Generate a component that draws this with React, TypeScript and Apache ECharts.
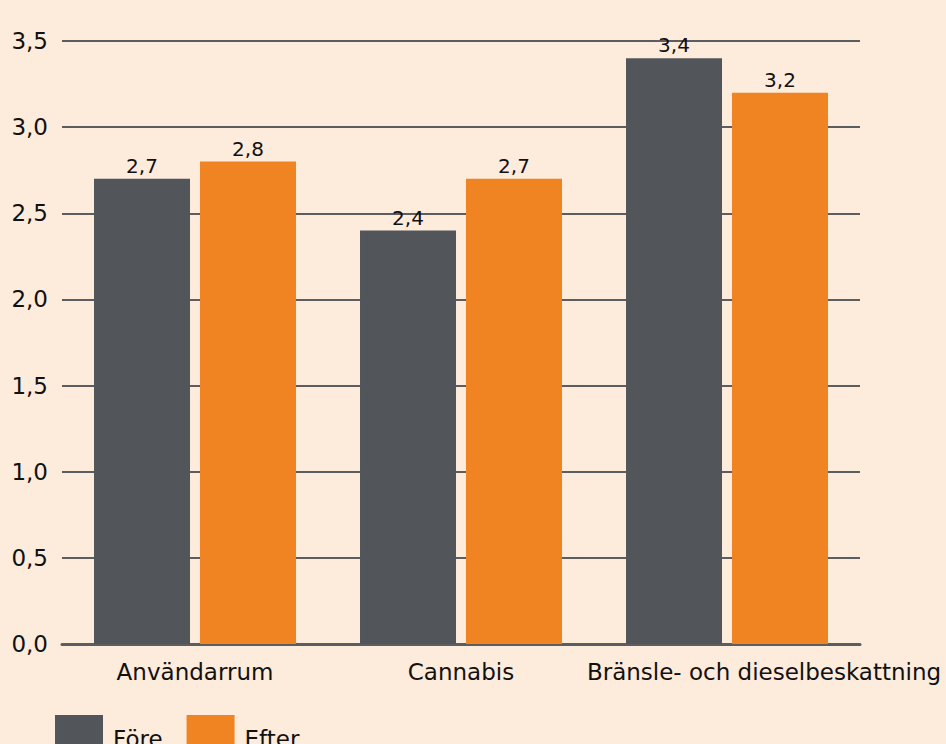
import React, { useEffect, useRef } from "react";
import * as echarts from "echarts";

const categories = ["Användarrum", "Cannabis", "Bränsle- och dieselbeskattning"];
const fore = [2.7, 2.4, 3.4];
const efter = [2.8, 2.7, 3.2];
const seriesNames = ["Före", "Efter"];

const BG = "#FDEBDC";
const GREY = "#52565B";
const ORANGE = "#F08322";
const LINE = "#5C5D60";
const FONT = "'DejaVu Sans', sans-serif";

const fmt = (v: number) => v.toFixed(1).replace(".", ",");

export default function App() {
  const ref = useRef<HTMLDivElement>(null);
  useEffect(() => {
    if (!ref.current) return;
    const chart = echarts.init(ref.current, null, { renderer: "svg" });
    chart.setOption({
      animation: false,
      backgroundColor: BG,
      grid: { left: 62, right: 86, top: 41, bottom: 100, containLabel: false },
      legend: {
        left: 55,
        top: 715,
        padding: 0,
        itemWidth: 48,
        itemHeight: 48,
        itemGap: 24,
        icon: "rect",
        textStyle: { fontFamily: FONT, fontSize: 23, color: "#111", padding: [0, 0, 13, 5] },
        data: seriesNames,
      },
      xAxis: {
        type: "category",
        data: categories.map((c, i) =>
          i === 2 ? { value: c, textStyle: { padding: [0, 0, 0, 74] } } : c
        ),
        axisLine: { show: true, lineStyle: { color: LINE, width: 3 } },
        axisTick: { show: false },
        axisLabel: { fontFamily: FONT, fontSize: 23, color: "#111", margin: 16, interval: 0 },
      },
      yAxis: {
        type: "value",
        min: 0,
        max: 3.5,
        interval: 0.5,
        axisLine: { show: false },
        axisTick: { show: false },
        splitLine: { lineStyle: { color: LINE, width: 2 } },
        axisLabel: {
          fontFamily: FONT,
          fontSize: 23,
          color: "#111",
          margin: 14,
          formatter: (v: number) => fmt(v),
        },
      },
      series: [
        {
          name: seriesNames[0],
          type: "bar",
          data: fore,
          barWidth: 96,
          barGap: "10.4%",
          itemStyle: { color: GREY },
          label: {
            show: true,
            position: "top",
            distance: 3,
            fontFamily: FONT,
            fontSize: 20,
            color: "#111",
            formatter: (p: any) => fmt(p.value),
          },
        },
        {
          name: seriesNames[1],
          type: "bar",
          data: efter,
          barWidth: 96,
          itemStyle: { color: ORANGE },
          label: {
            show: true,
            position: "top",
            distance: 3,
            fontFamily: FONT,
            fontSize: 20,
            color: "#111",
            formatter: (p: any) => fmt(p.value),
          },
        },
      ],
    });
    return () => chart.dispose();
  }, []);
  return (
    <div
      ref={ref}
      style={{ position: "absolute", left: 0, top: 0, width: 946, height: 744, background: BG }}
    />
  );
}
